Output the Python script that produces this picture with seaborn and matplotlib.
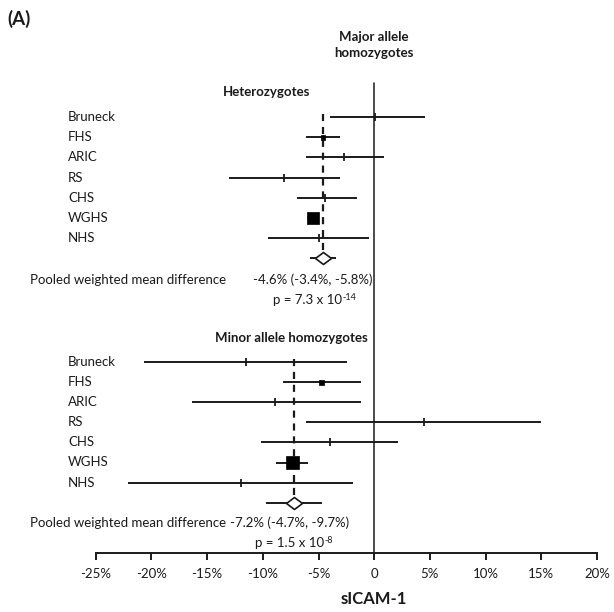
import numpy as np
import pandas as pd
import matplotlib
matplotlib.use("Agg")
import matplotlib.pyplot as plt
import seaborn as sns

# ---------------- data ----------------
studies = ["Bruneck", "FHS", "ARIC", "RS", "CHS", "WGHS", "NHS"]

het_est = [0.1, -4.6, -2.7, -8.1, -4.4, -5.5, -5.0]
het_lo = [-4.0, -6.1, -6.1, -13.0, -6.9, -6.0, -9.5]
het_hi = [4.6, -3.1, 0.9, -3.1, -1.5, -5.0, -0.5]
het_pooled = [-4.6, -5.8, -3.4]          # estimate, lower, upper
het_p_base, het_p_exp = "p = 7.3 x 10", "-14"

min_est = [-11.5, -4.7, -8.9, 4.5, -4.0, -7.3, -12.0]
min_lo = [-20.7, -8.2, -16.4, -6.1, -10.2, -8.8, -22.1]
min_hi = [-2.4, -1.2, -1.2, 15.0, 2.1, -5.9, -1.9]
min_pooled = [-7.2, -9.7, -4.7]
min_p_base, min_p_exp = "p = 1.5 x 10", "-8"

# square marker side (pt) reflecting study weight; 0 -> small tick marker
het_sq = [0, 3.5, 0, 0, 0, 9, 0]
min_sq = [0, 3.5, 0, 0, 0, 9.5, 0]

xticks = [-25, -20, -15, -10, -5, 0, 5, 10, 15, 20]
xticklabels = ["-25%", "-20%", "-15%", "-10%", "-5%", "0", "5%", "10%", "15%", "20%"]

# ---------------- layout ----------------
sns.set_style("white")
plt.rcParams["font.family"] = ["Lato", "DejaVu Sans"]

W, H = 614, 612
fig = plt.figure(figsize=(W / 100, H / 100), dpi=100)
ax = fig.add_axes([0, 0, 1, 1])

PX0, PPU = 95.7, 11.14          # pixel of -25%, pixels per 1%
def dx(px):
    return -25 + (px - PX0) / PPU

ax.set_xlim(dx(0), dx(W))
ax.set_ylim(H, 0)

AXIS_Y = 553
INK = "#1a1a1a"
FS = 9.5
DIAMOND = [(-1, 0), (0, 0.75), (1, 0), (0, -0.75), (-1, 0)]

def block(y0, est, lo, hi, sq, pooled, step=20.1):
    ys = [y0 + i * step for i in range(len(est))]
    yd = y0 + len(est) * step
    df = pd.DataFrame({"study": studies, "est": est, "lo": lo, "hi": hi,
                       "y": ys, "sq": sq})
    ax.hlines(df["y"], df["lo"], df["hi"], color=INK, lw=1.4, zorder=2)
    ticks = df[df["sq"] == 0]
    sns.scatterplot(data=ticks, x="est", y="y", marker="|", s=28,
                    color=INK, linewidth=1.3, ax=ax, zorder=3, legend=False)
    sqs = df[df["sq"] > 0]
    sns.scatterplot(data=sqs, x="est", y="y", marker="s", size="sq",
                    sizes=(sqs["sq"].min() ** 2, sqs["sq"].max() ** 2),
                    color="black", edgecolor="black", linewidth=0.5, ax=ax,
                    zorder=3, legend=False)
    # dashed pooled line
    ax.plot([pooled[0], pooled[0]], [ys[0] - 3, yd], color=INK, lw=1.6,
            ls=(0, (3.2, 2.6)), zorder=1)
    # pooled CI + diamond
    ax.hlines([yd], pooled[1], pooled[2], color=INK, lw=1.4, zorder=2)
    ax.plot([pooled[0]], [yd], marker=DIAMOND, ms=11.5, mfc="white", mec=INK,
            mew=1.2, zorder=4)
    for s, y in zip(studies, ys):
        ax.text(dx(68), y, s, fontsize=FS, va="center", ha="left", color=INK)
    return ys, yd

def ptext(px, y, base, exp):
    t = ax.text(dx(px), y, base, fontsize=FS, ha="left", va="center", color=INK)
    ax.annotate(exp, xy=(1, 1), xycoords=t, xytext=(0.5, 0.5),
                textcoords="offset points", fontsize=6.5, ha="left",
                va="top", color=INK)

# zero line
ax.plot([0, 0], [83, AXIS_Y], color=INK, lw=1.1, zorder=1)

# heterozygotes
block(117, het_est, het_lo, het_hi, het_sq, het_pooled, step=20.2)
ax.text(dx(310), 92, "Heterozygotes", fontsize=FS, fontweight="bold",
        ha="right", va="center", color=INK)
ax.text(dx(30), 280, "Pooled weighted mean difference", fontsize=FS,
        ha="left", va="center", color=INK)
ax.text(dx(253), 280, "%.1f%% (%.1f%%, %.1f%%)" % (het_pooled[0], het_pooled[2], het_pooled[1]),
        fontsize=FS, ha="left", va="center", color=INK)
ptext(273, 300, het_p_base, het_p_exp)

# minor allele homozygotes
block(362, min_est, min_lo, min_hi, min_sq, min_pooled, step=20.1)
ax.text(dx(368), 338, "Minor allele homozygotes", fontsize=FS,
        fontweight="bold", ha="right", va="center", color=INK)
ax.text(dx(30), 523, "Pooled weighted mean difference", fontsize=FS,
        ha="left", va="center", color=INK)
ax.text(dx(230), 523, "%.1f%% (%.1f%%, %.1f%%)" % (min_pooled[0], min_pooled[2], min_pooled[1]),
        fontsize=FS, ha="left", va="center", color=INK)
ptext(255, 543, min_p_base, min_p_exp)

# headings
ax.text(dx(7), 19, "(A)", fontsize=13.5, fontweight="bold", ha="left",
        va="center", color=INK)
ax.text(0, 45, "Major allele\nhomozygotes", fontsize=FS, fontweight="bold",
        ha="center", va="center", color=INK, linespacing=1.35)

# x axis
for side in ["left", "right", "top"]:
    ax.spines[side].set_visible(False)
ax.spines["bottom"].set_position(("data", AXIS_Y))
ax.spines["bottom"].set_bounds(-25, 20)
ax.spines["bottom"].set_color(INK)
ax.spines["bottom"].set_linewidth(1.4)
ax.set_xticks(xticks)
ax.set_xticklabels(xticklabels, fontsize=FS, color=INK)
ax.tick_params(axis="x", direction="out", length=5, width=1.4, color=INK,
               pad=6, bottom=True)
ax.set_yticks([])
ax.set_xlabel("")
ax.set_ylabel("")
ax.text(0, 599, "sICAM-1", fontsize=12, fontweight="bold", ha="center",
        va="center", color=INK)

fig.savefig("out.png", dpi=100, facecolor="white")
